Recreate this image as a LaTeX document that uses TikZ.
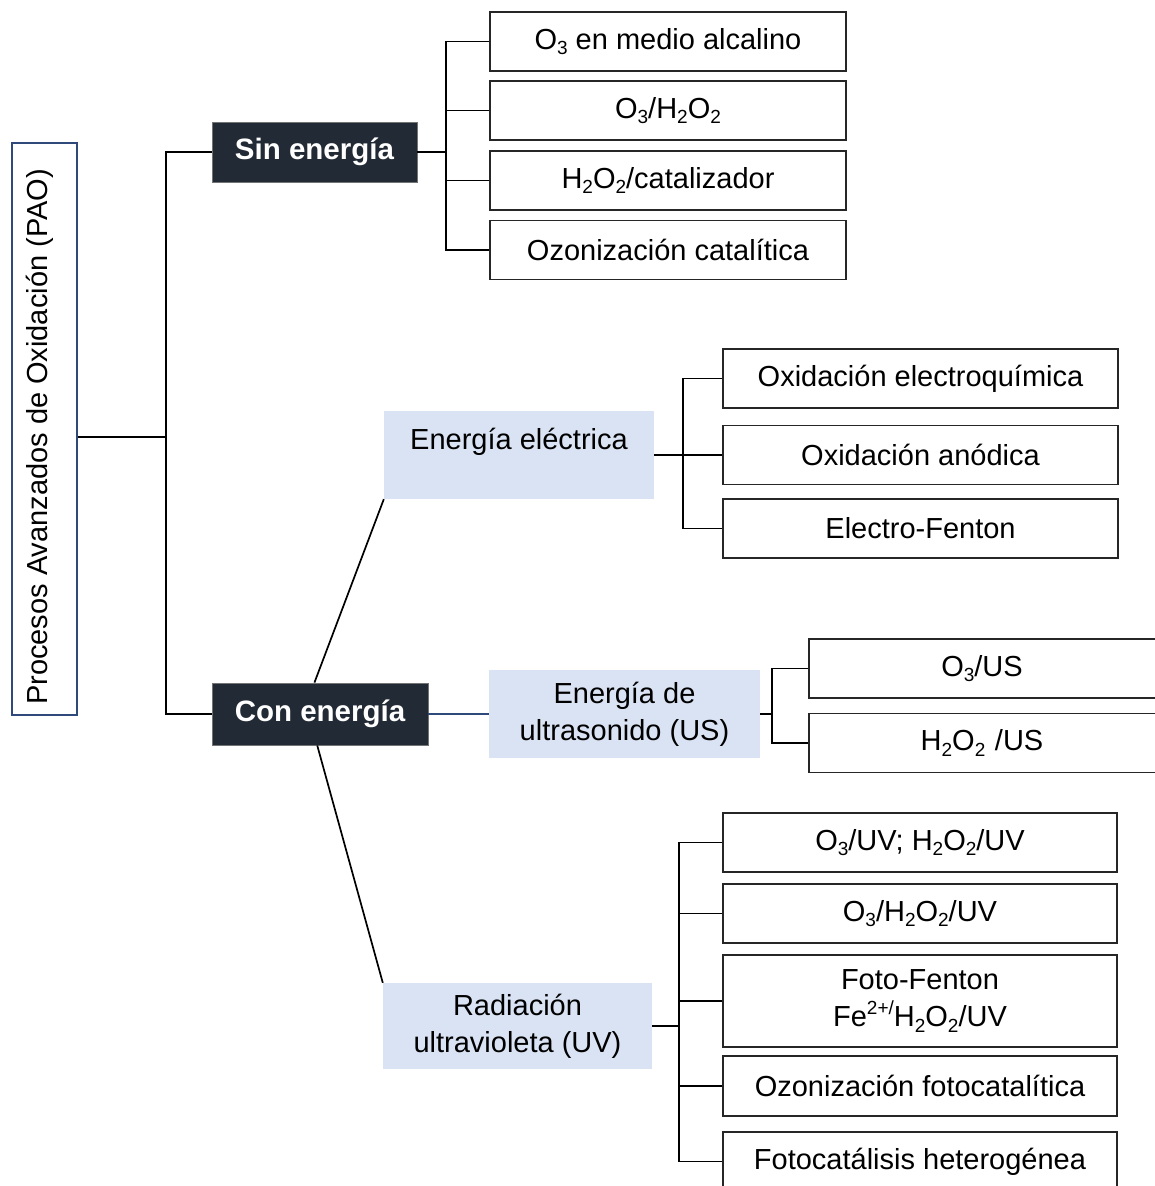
\documentclass[tikz,border=0pt]{standalone}
\usepackage{fontspec}
\setmainfont{Liberation Sans}
\usetikzlibrary{positioning}
\definecolor{navy}{HTML}{2F4A7A}
\definecolor{darkbox}{HTML}{222A35}
\definecolor{lightblue}{HTML}{DAE3F3}
\newcommand\subx[1]{\raisebox{-0.18em}{\fontsize{19}{19}\selectfont #1}}
\newcommand\supx[1]{\raisebox{0.42em}{\fontsize{19}{19}\selectfont #1}}
\begin{document}
\begin{tikzpicture}[x=1pt,y=-1pt,
  every node/.style={font=\fontsize{29}{37}\selectfont, inner sep=0pt, align=center},
  leaf/.style={draw=black!85, line width=1.5pt, fill=white, minimum height=59pt},
  darknode/.style={fill=darkbox, draw=black!55, line width=0.9pt, text=white, font=\fontsize{29.5}{37}\selectfont\bfseries},
  bluebox/.style={fill=lightblue},
  conn/.style={line width=1.7pt, black},
  navyconn/.style={line width=1.8pt, navy}]
\path[use as bounding box] (0,0) rectangle (1155,1186);
\clip (0,0) rectangle (1155,1186);
% root
\node[draw=navy, line width=2pt, minimum width=65pt, minimum height=572pt] (pao) at (44.5,429) {};
\node[rotate=90] (paot) at (40,437) {Procesos Avanzados de Oxidación (PAO)};
% level 1
\node[darknode, minimum width=205pt, minimum height=60pt] (sin) at (314.5,152) {Sin energía};
\node[darknode, minimum width=216pt, minimum height=62pt] (con) at (320,714) {Con energía};
% Sin energía leaves
\node[leaf, minimum width=356pt] (s1) at (668,41.5) {O\subx{3} en medio alcalino};
\node[leaf, minimum width=356pt] (s2) at (668,110.5) {O\subx{3}/H\subx{2}O\subx{2}};
\node[leaf, minimum width=356pt] (s3) at (668,180.5) {H\subx{2}O\subx{2}/catalizador};
\node[leaf, minimum width=356pt] (s4) at (668,250) {Ozonización catalítica};
% Con energía level 2
\node[bluebox, minimum width=270pt, minimum height=88pt] (elec) at (519,455) {};
\node (elect) at (519,442) {Energía eléctrica};
\node[bluebox, minimum width=271pt, minimum height=88pt] (us) at (624.5,714) {Energía de\\ultrasonido (US)};
\node[bluebox, minimum width=269pt, minimum height=86pt] (uv) at (517.5,1026) {Radiación\\ultravioleta (UV)};
% electric leaves
\node[leaf, minimum width=395pt] (e1) at (920.5,378.5) {Oxidación electroquímica};
\node[leaf, minimum width=395pt] (e2) at (920.5,455) {Oxidación anódica};
\node[leaf, minimum width=395pt] (e3) at (920.5,528.5) {Electro-Fenton};
% US leaves (cut at right edge)
\node[leaf, minimum width=366pt, text width=346pt] (u1) at (992,668.5) {\hspace*{-20pt}O\subx{3}/US};
\node[leaf, minimum width=366pt, text width=346pt] (u2) at (992,743) {\hspace*{-20pt}H\subx{2}O\subx{2} /US};
% UV leaves
\node[leaf, minimum width=394pt] (v1) at (920,842.5) {O\subx{3}/UV; H\subx{2}O\subx{2}/UV};
\node[leaf, minimum width=394pt] (v2) at (920,913.5) {O\subx{3}/H\subx{2}O\subx{2}/UV};
\node[leaf, minimum width=394pt, minimum height=92pt] (v3) at (920,1001) {Foto-Fenton\\Fe\supx{2+/}H\subx{2}O\subx{2}/UV};
\node[leaf, minimum width=394pt, minimum height=60pt] (v4) at (920,1086) {Ozonización fotocatalítica};
\node[leaf, minimum width=394pt] (v5) at (920,1161.5) {Fotocatálisis heterogénea};
% connectors root
\draw[conn] (pao.east |- paot.center) -- (166,437);
\draw[conn] (sin.west) -| (166,437) |- (con.west);
% Sin energía tree
\draw[conn] (sin.east) -- (446,152);
\draw[conn] (s1.west) -| (446,152) |- (s4.west);
\draw[conn] (s2.west) -- (446,110.5);
\draw[conn] (s3.west) -- (446,180.5);
% Con energía branches
\draw[conn] (con.100) -- (elec.south west);
\draw[conn] (con.265) -- (uv.north west);
\draw[navyconn] (con.east) -- (us.west);
% electric tree
\draw[conn] (elec.east) -- (e2.west);
\draw[conn] (e1.west) -| (683,455) |- (e3.west);
% US tree
\draw[conn] (us.east) -- (772,714);
\draw[conn] (u1.west) -| (772,714) |- (u2.west);
% UV tree
\draw[conn] (uv.east) -- (679,1026);
\draw[conn] (v1.west) -| (679,1026) |- (v5.west);
\draw[conn] (v2.west) -- (679,913.5);
\draw[conn] (v3.west) -- (679,1001);
\draw[conn] (v4.west) -- (679,1086);
\end{tikzpicture}
\end{document}
